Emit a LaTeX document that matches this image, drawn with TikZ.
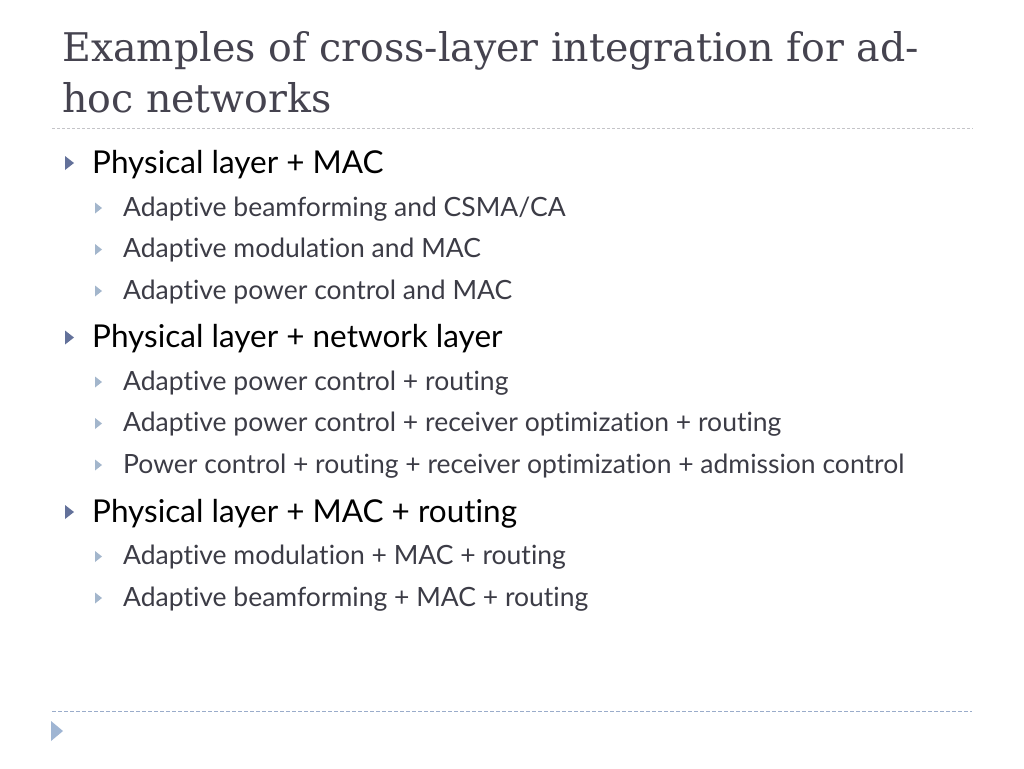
\documentclass[tikz,border=0pt]{standalone}
\usepackage{fontspec}
\setmainfont[RawFeature={-liga}]{Lato}
\newfontfamily\titlefont{DejaVu Serif}
\definecolor{titlecol}{HTML}{45434F}
\definecolor{subcol}{HTML}{3C3C46}
\definecolor{bulAcol}{HTML}{63719A}
\definecolor{bulBcol}{HTML}{A3B6CC}
\definecolor{rulecol}{HTML}{C4C4C8}
\definecolor{botcol}{HTML}{9AACCA}
\definecolor{bottri}{HTML}{9FB5D3}
\begin{document}
\begin{tikzpicture}[x=1pt,y=-1pt,
  titletext/.style={anchor=base west,inner sep=0pt,text=titlecol,font=\titlefont\fontsize{39.5}{46}\selectfont},
  lvlA/.style={anchor=base west,inner sep=0pt,text=black,font=\fontsize{31.5}{38}\selectfont},
  lvlB/.style={anchor=base west,inner sep=0pt,text=subcol,font=\fontsize{26.5}{31}\selectfont},
  bulA/.style={fill=bulAcol},
  bulB/.style={fill=bulBcol}]
\useasboundingbox[fill=white] (0,0) rectangle (1024,768);
% title
\node[titletext] (t1) at (62,62) {Examples of cross-layer integration for ad-};
\node[titletext] (t2) at (62,112) {hoc networks};
% rules
\draw[rulecol,line width=1pt,dash pattern=on 3pt off 2pt] (52,128) -- (973,128);
\draw[botcol,line width=1pt,dash pattern=on 4pt off 2pt] (52,711) -- (972,711);
\fill[bottri] (51,721) -- (63,731) -- (51,741) -- cycle;
% level 1 items
\foreach \y/\n/\t in {173/a1/{Physical layer + MAC},347.5/b1/{Physical layer + network layer},522/c1/{Physical layer + MAC + routing}}{
  \node[lvlA] (\n) at (92,\y) {\t};
  \fill[bulA] (65,\y-17) -- (74,\y-10) -- (65,\y-3) -- cycle;
}
% level 2 items
\foreach \y/\n/\t in {
  216/a2/{Adaptive beamforming and CSMA/CA},
  257.5/a3/{Adaptive modulation and MAC},
  299/a4/{Adaptive power control and MAC},
  390/b2/{Adaptive power control + routing},
  431.5/b3/{Adaptive power control + receiver optimization + routing},
  473/b4/{Power control + routing + receiver optimization + admission control},
  564.5/c2/{Adaptive modulation + MAC + routing},
  606/c3/{Adaptive beamforming + MAC + routing}}{
  \node[lvlB] (\n) at (123,\y) {\t};
  \fill[bulB] (95,\y-13.5) -- (102,\y-8) -- (95,\y-2.5) -- cycle;
}
\end{tikzpicture}
\end{document}
